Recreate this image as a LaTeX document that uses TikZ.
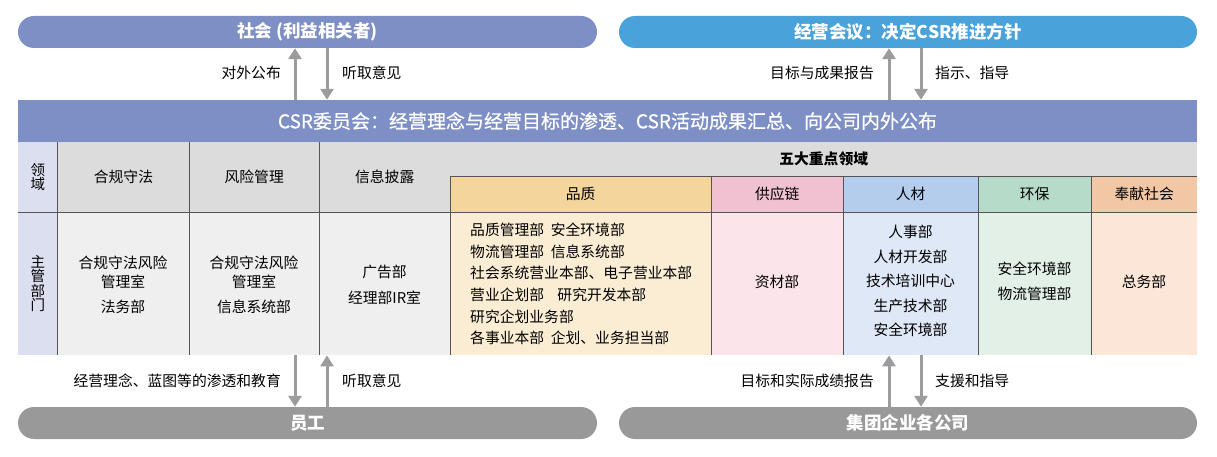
\documentclass[tikz,border=0pt]{standalone}
\usepackage{fontspec}
\setmainfont{Noto Sans CJK SC}
\newfontfamily\medfont{Noto Sans CJK SC}[FakeBold=0.6]
\usetikzlibrary{arrows.meta,calc}
\definecolor{socblue}{HTML}{7D8FC5}
\definecolor{mtgblue}{HTML}{4AA2DB}
\definecolor{pillgray}{HTML}{999999}
\definecolor{arrgray}{HTML}{9C9C9C}
\definecolor{gridcol}{HTML}{555555}
\definecolor{lavhead}{HTML}{DCDFF0}
\definecolor{grayhead}{HTML}{DCDCDC}
\definecolor{graybody}{HTML}{EFEFEF}
\definecolor{qhead}{HTML}{F4D59C}
\definecolor{qbody}{HTML}{FBEDD4}
\definecolor{shead}{HTML}{EFC1D1}
\definecolor{sbody}{HTML}{FBE4EA}
\definecolor{rhead}{HTML}{B4CDEC}
\definecolor{rbody}{HTML}{DEE8F6}
\definecolor{ehead}{HTML}{B6DCC9}
\definecolor{ebody}{HTML}{E2F0E7}
\definecolor{chead}{HTML}{F1C7A6}
\definecolor{cbody}{HTML}{FBE6D7}
\begin{document}
\begin{tikzpicture}[x=1pt,y=-1pt,
  pill/.style={rectangle, rounded corners=16pt, inner sep=0pt, minimum height=32pt, text=white, font=\fontsize{17.5}{20}\selectfont\bfseries},
  bar/.style={rectangle, inner sep=0pt, text=white, font=\fontsize{19}{22}\selectfont\medfont},
  cell/.style={rectangle, inner sep=0pt, anchor=north west, align=center, font=\fontsize{14.8}{19}\selectfont},
  lbl/.style={inner sep=0pt, font=\fontsize{14.8}{17}\selectfont},
  arr/.style={draw=arrgray, line width=3pt, -{Triangle[width=13pt,length=11pt]}},
  grid/.style={draw=gridcol, line width=0.75pt}
]
\useasboundingbox (0,0) rectangle (1217,457);

% pills
\node[pill, fill=socblue, minimum width=579pt] (soc) at (307.5,32) {社会 (利益相关者)};
\node[pill, fill=mtgblue, minimum width=578pt] (mtg) at (908,32) {经营会议：决定CSR推进方针};
\node[pill, fill=pillgray, minimum width=579pt] (emp) at (307.5,423) {员工};
\node[pill, fill=pillgray, minimum width=578pt] (grp) at (908,423) {集团企业各公司};

% CSR bar
\node[bar, fill=socblue, minimum width=1179pt, minimum height=42pt] (csr) at (607.5,121) {CSR委员会：经营理念与经营目标的渗透、CSR活动成果汇总、向公司内外公布};

% header row
\node[cell, fill=lavhead, minimum width=39.5pt, minimum height=70pt, font=\fontsize{14.5}{14.5}\selectfont] (hdom) at (18,142) {领\\域};
\node[cell, fill=grayhead, minimum width=131.5pt, minimum height=70pt] (hcomp) at (57.5,142) {合规守法};
\node[cell, fill=grayhead, minimum width=130pt, minimum height=70pt] (hrisk) at (189,142) {风险管理};
\node[cell, fill=grayhead, minimum width=131pt, minimum height=70pt] (hinfo) at (319,142) {信息披露};
\node[cell, fill=grayhead, minimum width=747pt, minimum height=34pt, font=\fontsize{14.8}{19}\selectfont\bfseries] (hfive) at (450,142) {五大重点领域};
\node[cell, fill=qhead, minimum width=261pt, minimum height=36pt] (hq) at (450,176) {品质};
\node[cell, fill=shead, minimum width=132pt, minimum height=36pt] (hs) at (711,176) {供应链};
\node[cell, fill=rhead, minimum width=135pt, minimum height=36pt] (hr) at (843,176) {人材};
\node[cell, fill=ehead, minimum width=113pt, minimum height=36pt] (he) at (978,176) {环保};
\node[cell, fill=chead, minimum width=106pt, minimum height=36pt] (hc) at (1091,176) {奉献社会};

% body row
\node[cell, fill=lavhead, minimum width=39.5pt, minimum height=143pt, font=\fontsize{14.5}{14.5}\selectfont] (bdom) at (18,212) {主\\管\\部\\门};
\node[cell, fill=graybody, minimum width=131.5pt, minimum height=143pt] (bcomp) at (57.5,212) {};
\node[cell, fill=graybody, minimum width=130pt, minimum height=143pt] (brisk) at (189,212) {};
\node[cell, fill=graybody, minimum width=131pt, minimum height=143pt] (binfo) at (319,212) {};
\node[cell, fill=qbody, minimum width=261pt, minimum height=143pt] (bq) at (450,212) {};
\node[cell, fill=sbody, minimum width=132pt, minimum height=143pt] (bs) at (711,212) {};
\node[cell, fill=rbody, minimum width=135pt, minimum height=143pt] (br) at (843,212) {};
\node[cell, fill=ebody, minimum width=113pt, minimum height=143pt] (be) at (978,212) {};
\node[cell, fill=cbody, minimum width=106pt, minimum height=143pt] (bc) at (1091,212) {};

% body texts
\node[lbl, align=center, font=\fontsize{14.8}{19}\selectfont] (tcomp) at (123,285) {合规守法风险\\管理室\\[6pt]法务部};
\node[lbl, align=center, font=\fontsize{14.8}{19}\selectfont] (trisk) at (254,285) {合规守法风险\\管理室\\[6pt]信息系统部};
\node[lbl, align=center, font=\fontsize{14.8}{26}\selectfont] (tinfo) at (384.5,285) {广告部\\经理部IR室};
\node[lbl, anchor=west, align=left, font=\fontsize{14.8}{21.6}\selectfont] (tq) at (470,284) {品质管理部\ \ 安全环境部\\物流管理部\ \ 信息系统部\\社会系统营业本部、电子营业本部\\营业企划部\ \ \ \ 研究开发本部\\研究企划业务部\\各事业本部\ \ 企划、业务担当部};
\node[lbl] (ts) at (777,282) {资材部};
\node[lbl, align=center, font=\fontsize{14.8}{24.5}\selectfont] (tr) at (910.5,281) {人事部\\人材开发部\\技术培训中心\\生产技术部\\安全环境部};
\node[lbl, align=center, font=\fontsize{14.8}{25}\selectfont] (te) at (1034.5,281.5) {安全环境部\\物流管理部};
\node[lbl] (tc) at (1144,282) {总务部};

% grid lines
\draw[grid] (hcomp.north west) -- (bcomp.south west);
\draw[grid] (hrisk.north west) -- (brisk.south west);
\draw[grid] (hinfo.north west) -- (binfo.south west);
\draw[grid] (hq.north west) -- (bq.south west);
\draw[grid] (hs.north west) -- (bs.south west);
\draw[grid] (hr.north west) -- (br.south west);
\draw[grid] (he.north west) -- (be.south west);
\draw[grid] (hc.north west) -- (bc.south west);
\draw[grid] (hq.north west) -- (hc.north east);
\draw[grid] (bdom.north west) -- (bc.north east);

% arrows
\coordinate (xa) at (295,0);
\coordinate (xb) at (327,0);
\coordinate (xc) at (889,0);
\coordinate (xd) at (921,0);
\draw[arr] (csr.north -| xa) -- (soc.south -| xa);
\draw[arr] (soc.south -| xb) -- (csr.north -| xb);
\draw[arr] (csr.north -| xc) -- (mtg.south -| xc);
\draw[arr] (mtg.south -| xd) -- (csr.north -| xd);
\draw[arr] (bcomp.south -| xa) -- (emp.north -| xa);
\draw[arr] (emp.north -| xb) -- (bcomp.south -| xb);
\draw[arr] (grp.north -| xc) -- (bs.south -| xc);
\draw[arr] (bs.south -| xd) -- (grp.north -| xd);

% arrow labels
\node[lbl, anchor=east] (l1) at (281,73) {对外公布};
\node[lbl, anchor=west] (l2) at (342,73) {听取意见};
\node[lbl, anchor=east] (l3) at (874,73) {目标与成果报告};
\node[lbl, anchor=west] (l4) at (935,73) {指示、指导};
\node[lbl, anchor=east] (l5) at (281,381) {经营理念、蓝图等的渗透和教育};
\node[lbl, anchor=west] (l6) at (342,381) {听取意见};
\node[lbl, anchor=east] (l7) at (874,381) {目标和实际成绩报告};
\node[lbl, anchor=west] (l8) at (935,381) {支援和指导};
\end{tikzpicture}
\end{document}
